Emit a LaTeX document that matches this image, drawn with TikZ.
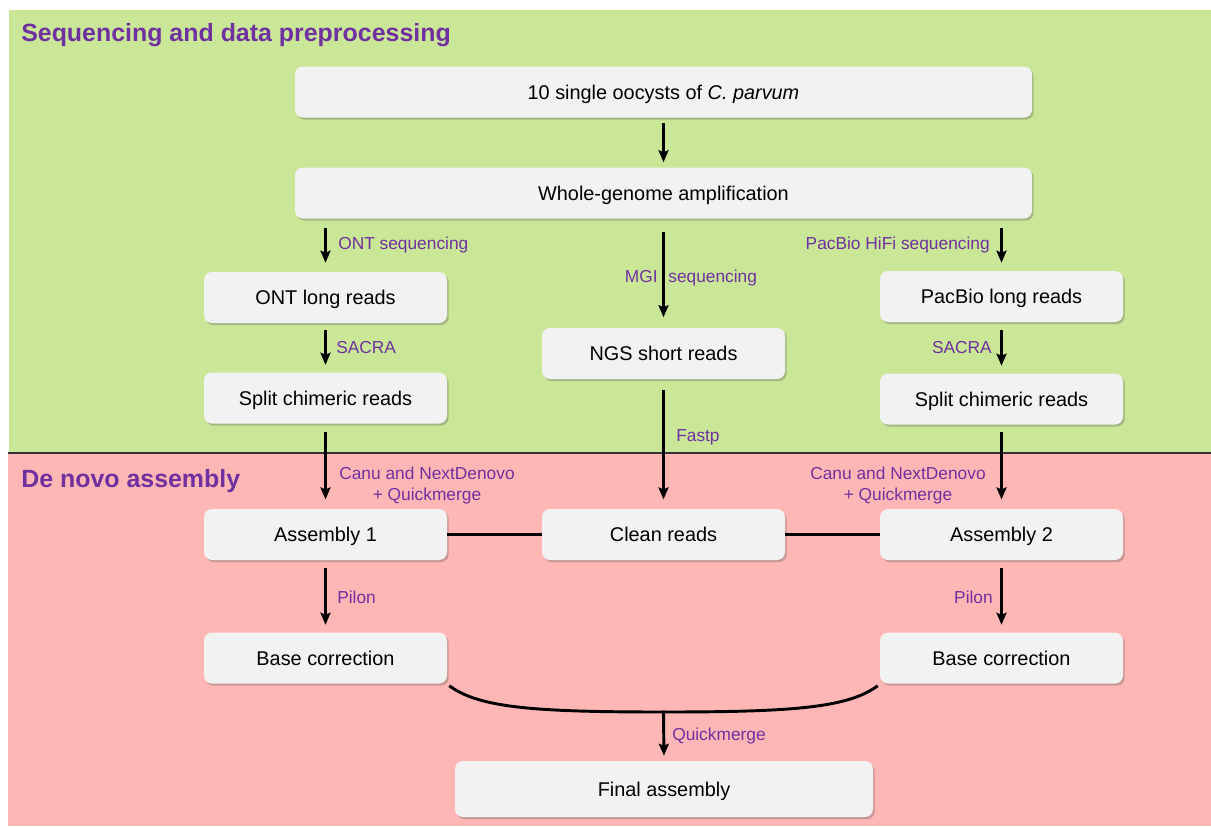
\documentclass[tikz,border=0pt]{standalone}
\usepackage{fontspec}
\setmainfont{Liberation Sans}
\usetikzlibrary{arrows.meta,shadows,calc}
\definecolor{bggreen}{HTML}{C9E797}
\definecolor{bgpink}{HTML}{FFB7B5}
\definecolor{boxfill}{HTML}{F2F2F2}
\definecolor{labpurple}{HTML}{7030A0}
\begin{document}
\begin{tikzpicture}[x=0.75pt,y=-0.75pt,
  box/.style={rounded corners=6pt, fill=boxfill, inner sep=0pt, minimum width=182.25pt, minimum height=38.25pt,
    font=\fontsize{14.9}{17}\selectfont, text height=10.7pt, text depth=0pt,
    drop shadow={shadow xshift=1.3pt, shadow yshift=-1.6pt, opacity=0.3, fill=black!70}},
  labm/.style={text=labpurple, font=\fontsize{13}{15.75}\selectfont, inner sep=0pt},
  lab/.style={labm, text height=9.3pt, text depth=0pt},
  title/.style={text=labpurple, font=\fontsize{18.7}{22}\selectfont\bfseries, inner sep=0pt, anchor=west,
    text height=13.4pt, text depth=0pt},
  arr/.style={line width=2.2pt, -{Stealth[length=9pt,width=7.5pt,inset=1.5pt]}},
  link/.style={line width=2.2pt}]
\useasboundingbox (0,0) rectangle (1211,826);
\fill[bggreen] (9,10) rectangle (1211,453);
\fill[bgpink] (8,453) rectangle (1211,826);
\draw[line width=0.8pt, black!80] (8,453) -- (1211,453);

\node[title] (t1) at (21,33) {Sequencing and data preprocessing};
\node[title] (t2) at (21,479) {De novo assembly};

\node[box, minimum width=552.75pt] (b1) at (663.5,92) {10 single oocysts of \textit{C. parvum}};
\node[box, minimum width=552.75pt] (b2) at (663.5,193) {Whole-genome amplification};
\node[box] (ont) at (325.5,297.5) {ONT long reads};
\node[box] (scl) at (325.5,398) {Split chimeric reads};
\node[box] (ngs) at (663.5,353.5) {NGS short reads};
\node[box] (pac) at (1001.5,296.5) {PacBio long reads};
\node[box] (scr) at (1001.5,399) {Split chimeric reads};
\node[box] (a1) at (325.5,534.5) {Assembly 1};
\node[box] (cr) at (663.5,534.5) {Clean reads};
\node[box] (a2) at (1001.5,534.5) {Assembly 2};
\node[box] (bcl) at (325.5,658) {Base correction};
\node[box] (bcr) at (1001.5,658) {Base correction};
\node[box, minimum width=313.5pt, minimum height=42pt] (fin) at (664,789) {Final assembly};
\coordinate (m) at (663.5,712);

\draw[arr, shorten <=3.75pt, shorten >=3.75pt] (b1) -- (b2);
\draw[arr, shorten <=7.1pt, shorten >=6.75pt] (ont.north |- b2.south) -- (ont.north);
\draw[arr, shorten <=10pt, shorten >=7.9pt] (ngs.north |- b2.south) -- (ngs.north);
\draw[arr, shorten <=7.1pt, shorten >=6pt] (pac.north |- b2.south) -- (pac.north);
\draw[arr, shorten <=5.25pt, shorten >=5.6pt] (ont) -- (scl);
\draw[arr, shorten <=6pt, shorten >=5.6pt] (pac) -- (scr);
\draw[arr, shorten <=6.4pt, shorten >=7pt] (scl) -- (a1);
\draw[arr, shorten <=8.25pt, shorten >=7pt] (ngs) -- (cr);
\draw[arr, shorten <=5.6pt, shorten >=7pt] (scr) -- (a2);
\draw[arr, shorten <=5.6pt, shorten >=5.6pt] (a1) -- (bcl);
\draw[arr, shorten <=5.6pt, shorten >=5.6pt] (a2) -- (bcr);
\draw[link] (a1.east) -- (cr.west);
\draw[link] (cr.east) -- (a2.west);
\draw[link] ($(bcl.south east)+(2,2)$) .. controls +(30,22) and +(-130,0) .. (m)
  .. controls +(130,0) and +(-30,22) .. ($(bcr.south west)+(-2,2)$);
\draw[arr, shorten <=-1pt, shorten >=3.75pt] (m) -- (fin.north);

\node[lab, anchor=west] (l1) at (338,243) {ONT sequencing};
\node[lab] (l2) at (691,276) {MGI\hspace{8pt}sequencing};
\node[lab, anchor=east] (l3) at (990,243) {PacBio HiFi sequencing};
\node[lab, anchor=west] (l4) at (336,347) {SACRA};
\node[lab, anchor=east] (l5) at (992,347) {SACRA};
\node[labm, align=center] (l6) at (427,486) {Canu and NextDenovo\\+ Quickmerge};
\node[labm, align=center] (l7) at (898,486) {Canu and NextDenovo\\+ Quickmerge};
\node[lab, anchor=west] (l8) at (676,435) {Fastp};
\node[lab, anchor=west] (l9) at (337,597) {Pilon};
\node[lab, anchor=east] (l10) at (993,597) {Pilon};
\node[lab, anchor=west] (l11) at (672,734) {Quickmerge};
\end{tikzpicture}
\end{document}
